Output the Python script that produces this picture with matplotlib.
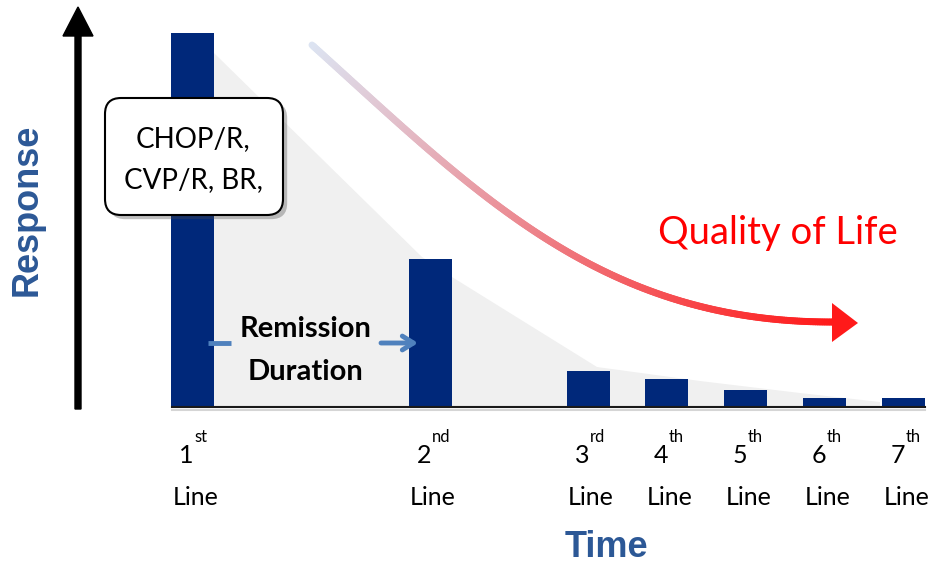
import numpy as np
import matplotlib.pyplot as plt
from matplotlib.patches import Polygon, FancyBboxPatch, FancyArrow
from matplotlib.collections import LineCollection
import matplotlib.patheffects as pe

# treatment lines along the time axis and the response to each
line_pos = [192.5, 430, 588, 666.5, 745.5, 824.5, 903.5]
response = [374, 148, 36, 28, 17, 9, 9]
line_num = ['1', '2', '3', '4', '5', '6', '7']
line_suffix = ['st', 'nd', 'rd', 'th', 'th', 'th', 'th']

# outline of the shaded response envelope
env_x = [214, 422, 452, 597, 700, 800, 880]
env_y = [354, 150, 130, 40, 26, 14, 5]

# control points of the quality-of-life curve
qol_ctrl = np.array([[312, 362], [475, 215], [600, 84], [834, 85]])

navy = '#00287a'
head_blue = '#2c5896'
body_font = 'Lato'
head_font = 'Liberation Sans'

fig = plt.figure(figsize=(9.33, 5.65), dpi=100)
ax = fig.add_axes([0, 0, 1, 1])
ax.set_xlim(0, 933)
ax.set_ylim(-158, 407)
ax.axis('off')

# grey envelope behind the bars
env = list(zip(env_x, env_y)) + [(env_x[-1], 0), (env_x[0], 0)]
ax.add_patch(Polygon(env, closed=True, facecolor='#f0f0f0', edgecolor='none', zorder=1))

# bars
ax.bar(line_pos, response, width=43, color=navy, zorder=3)

# time baseline
shadow = [pe.SimpleLineShadow(offset=(0, -2), shadow_color='#888888', alpha=0.35), pe.Normal()]
ax.plot([172, 925], [0, 0], color='#1a1a1a', lw=1.5, zorder=4, path_effects=shadow)

# response axis arrow
ax.add_patch(FancyArrow(78, -2, 0, 402, width=6, head_width=30, head_length=29,
                        length_includes_head=True, color='black', zorder=4))
ax.text(27, 197, 'Response', rotation=90, ha='center', va='center', fontsize=26,
        fontweight='bold', color=head_blue, family=head_font)
ax.text(606, -150, 'Time', ha='center', va='baseline', fontsize=26,
        fontweight='bold', color=head_blue, family=head_font)

# line labels under the bars
for x, n, s in zip(line_pos, line_num, line_suffix):
    ax.text(x - 6, -56, n, ha='center', va='baseline', fontsize=18, family=body_font)
    ax.text(x + 2, -35, s, ha='left', va='baseline', fontsize=12, family=body_font)
    ax.text(x + 3, -98, 'Line', ha='center', va='baseline', fontsize=18, family=body_font)

# regimen call-out box
box = FancyBboxPatch((105, 192), 178, 117, boxstyle='round,pad=0,rounding_size=16',
                     facecolor='white', edgecolor='black', lw=1.5, zorder=5,
                     path_effects=[pe.SimplePatchShadow(offset=(3, -3), alpha=0.35), pe.Normal()])
ax.add_patch(box)
ax.text(193, 260, 'CHOP/R,', ha='center', va='baseline', fontsize=20, family=body_font, zorder=6)
ax.text(193, 219, 'CVP/R, BR,', ha='center', va='baseline', fontsize=20, family=body_font, zorder=6)

# remission duration arrow
arrow_blue = '#4f81bd'
ax.plot([208, 231], [64, 64], color=arrow_blue, lw=3.5, solid_capstyle='butt', zorder=4)
ax.annotate('', xy=(418, 64), xytext=(381, 64),
            arrowprops=dict(arrowstyle='->,head_length=0.8,head_width=0.5',
                            color=arrow_blue, lw=3.5, shrinkA=0, shrinkB=0), zorder=4)
ax.text(306, 70, 'Remission', ha='center', va='baseline', fontsize=21,
        fontweight='bold', family=body_font, zorder=6)
ax.text(306, 27, 'Duration', ha='center', va='baseline', fontsize=21,
        fontweight='bold', family=body_font, zorder=6)

# quality of life curve, fading from pale blue to red
t = np.linspace(0, 1, 300)[:, None]
p0, p1, p2, p3 = qol_ctrl
curve = (1 - t) ** 3 * p0 + 3 * (1 - t) ** 2 * t * p1 + 3 * (1 - t) * t ** 2 * p2 + t ** 3 * p3
segs = np.stack([curve[:-1], curve[1:]], axis=1)
c0 = np.array([220, 228, 242]) / 255
c1 = np.array([255, 26, 26]) / 255
f = np.linspace(0, 1, len(segs))[:, None]
cols = c0 * (1 - f) + c1 * f
ax.add_collection(LineCollection(segs, colors=cols, linewidths=5, capstyle='round', zorder=2))
ax.add_patch(Polygon([(832, 104), (832, 65), (858, 84)], closed=True,
                     facecolor='#ff1a1a', edgecolor='none', zorder=2))
ax.text(778, 163, 'Quality of Life', ha='center', va='baseline', fontsize=27.5,
        color='#ff0000', family=body_font)

fig.savefig('out.png', dpi=100)
